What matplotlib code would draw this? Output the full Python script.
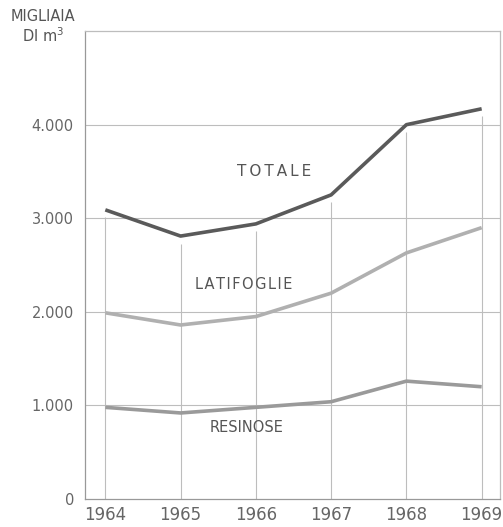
import matplotlib
matplotlib.use("Agg")
import matplotlib.pyplot as plt

# data (thousands of m3)
years = [1964, 1965, 1966, 1967, 1968, 1969]
totale = [3090, 2810, 2940, 3250, 4000, 4170]
latifoglie = [1990, 1860, 1950, 2200, 2630, 2900]
resinose = [980, 920, 980, 1040, 1260, 1200]

y_ticks = [0, 1000, 2000, 3000, 4000]
y_tick_labels = ["0", "1.000", "2.000", "3.000", "4.000"]

fig = plt.figure(figsize=(5.03, 5.27), dpi=100)
ax = fig.add_axes([0.169, 0.053, 0.826, 0.888])

grid_col = "#bdbdbd"
# horizontal grid across the full width
for yv in y_ticks[1:]:
    ax.axhline(yv, color=grid_col, linewidth=0.8, zorder=1)
# vertical drop lines from the total curve down to zero
ax.vlines(years, 0, [v - 80 for v in totale], color=grid_col, linewidth=0.8, zorder=1)

ax.plot(years, totale, color="#5a5a5a", linewidth=2.6, solid_capstyle="butt", zorder=3)
ax.plot(years, latifoglie, color="#b0b0b0", linewidth=2.6, solid_capstyle="butt", zorder=3)
ax.plot(years, resinose, color="#9a9a9a", linewidth=2.6, solid_capstyle="butt", zorder=3)

text_col = "#555555"
ax.text(1966.24, 3500, "\u2009".join("TOTALE"), color=text_col, fontsize=11, ha="center", va="center")
ax.text(1965.84, 2290, "\u200a".join("LATIFOGLIE"), color=text_col, fontsize=10.5, ha="center", va="center")
ax.text(1965.87, 760, "RESINOSE", color=text_col, fontsize=10.5, ha="center", va="center")

ax.set_xlim(1963.73, 1969.25)
ax.set_ylim(0, 5000)
ax.set_xticks(years)
ax.set_xticklabels([str(y) for y in years])
ax.set_yticks(y_ticks)
ax.set_yticklabels(y_tick_labels)
ax.tick_params(axis="both", length=0, colors="#666666")
ax.tick_params(axis="y", pad=8, labelsize=10.5)
ax.tick_params(axis="x", pad=5, labelsize=12)

for side in ["left", "bottom", "top", "right"]:
    ax.spines[side].set_color(grid_col)
    ax.spines[side].set_linewidth(0.9)
ax.spines["left"].set_color("#999999")
ax.spines["bottom"].set_color("#999999")

fig.text(0.086, 0.968, "MIGLIAIA", color="#555555", fontsize=10.5, ha="center", va="center")
fig.text(0.086, 0.932, "DI m$^3$", color="#555555", fontsize=10.5, ha="center", va="center")

fig.savefig("out.png", dpi=100, facecolor="white")
